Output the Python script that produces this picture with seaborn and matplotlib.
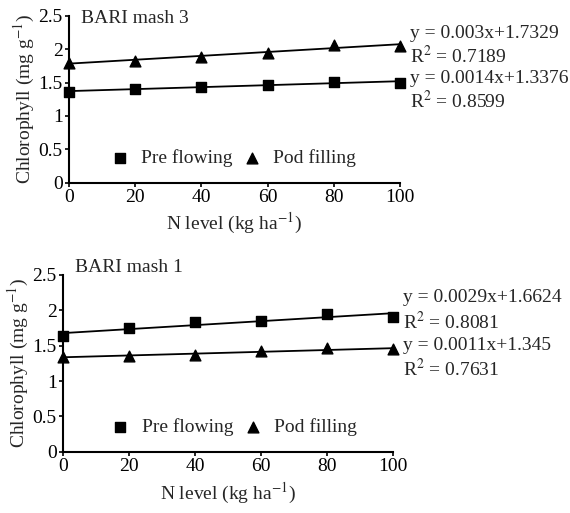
import matplotlib
matplotlib.use("Agg")
import matplotlib.pyplot as plt
import seaborn as sns
import pandas as pd
from matplotlib.ticker import FuncFormatter

# N levels (kg/ha)
n_level = [0, 20, 40, 60, 80, 100]

# BARI mash 3
mash3_pre = [1.36, 1.41, 1.43, 1.47, 1.51, 1.50]
mash3_pod = [1.80, 1.83, 1.88, 1.95, 2.07, 2.05]
mash3_eq = ["y = 0.003x+1.7329", "R$^{2}$ = 0.7189",
            "y = 0.0014x+1.3376", "R$^{2}$ = 0.8599"]

# BARI mash 1
mash1_pre = [1.63, 1.75, 1.83, 1.85, 1.95, 1.90]
mash1_pod = [1.34, 1.36, 1.37, 1.42, 1.46, 1.45]
mash1_eq = ["y = 0.0029x+1.6624", "R$^{2}$ = 0.8081",
            "y = 0.0011x+1.345", "R$^{2}$ = 0.7631"]

sns.set_style("ticks")
plt.rcParams['font.family'] = ['Liberation Serif', 'DejaVu Serif']
plt.rcParams['mathtext.fontset'] = 'stix'
plt.rcParams['font.size'] = 13

fig = plt.figure(figsize=(5.7, 5.13), dpi=100)
ax1 = fig.add_axes([0.121, 0.644, 0.581, 0.325])
ax2 = fig.add_axes([0.1105, 0.1195, 0.5785, 0.3445])


def draw_panel(ax, pre, pod, title, eqs, eq_y, title_y, leg_x):
    df = pd.DataFrame({"x": n_level, "pre": pre, "pod": pod})
    sns.regplot(data=df, x="x", y="pre", ax=ax, ci=None, color="black",
                marker="s", scatter_kws={"s": 55, "alpha": 1, "clip_on": False, "zorder": 3},
                line_kws={"lw": 1.3})
    sns.regplot(data=df, x="x", y="pod", ax=ax, ci=None, color="black",
                marker="^", scatter_kws={"s": 60, "alpha": 1, "clip_on": False, "zorder": 3},
                line_kws={"lw": 1.3})
    # legend proxies
    ax.scatter([], [], marker="s", s=55, color="black", label="Pre flowing")
    ax.scatter([], [], marker="^", s=60, color="black", label="Pod filling")
    ax.legend(loc="lower left", bbox_to_anchor=(leg_x, -0.01), ncol=2, frameon=False,
              handlelength=1.2, handletextpad=0.5, columnspacing=0.4, fontsize=14)
    ax.set_xlim(0, 100)
    ax.set_ylim(0, 2.5)
    ax.set_xticks(n_level)
    ax.set_yticks([0, 0.5, 1, 1.5, 2, 2.5])
    ax.yaxis.set_major_formatter(FuncFormatter(lambda v, p: f"{v:g}"))
    ax.set_xlabel("N level (kg ha$^{-1}$)", fontsize=14, labelpad=4)
    ax.set_ylabel("Chlorophyll (mg g$^{-1}$)", fontsize=14, labelpad=1)
    ax.tick_params(direction="out", length=3, width=1.2, labelsize=14, pad=1.5,
                   colors="black")
    for s in ["left", "bottom"]:
        ax.spines[s].set_linewidth(1.5)
        ax.spines[s].set_color("black")
    sns.despine(ax=ax)
    ax.text(0.035, title_y, title, transform=ax.transAxes, fontsize=14,
            va="center", ha="left")
    for i, t in enumerate(eqs):
        ax.text(1.03, eq_y - i * 0.135, t, transform=ax.transAxes,
                fontsize=14, va="center", ha="left")


draw_panel(ax1, mash3_pre, mash3_pod, "BARI mash 3", mash3_eq, 0.895, 0.985, 0.065)
draw_panel(ax2, mash1_pre, mash1_pod, "BARI mash 1", mash1_eq, 0.87, 1.045, 0.085)

fig.savefig("out.png", dpi=100)
